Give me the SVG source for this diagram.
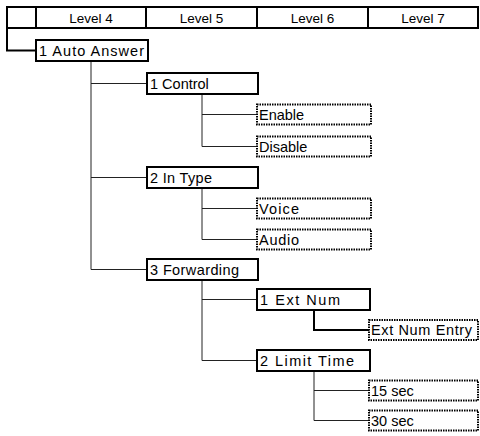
<svg xmlns="http://www.w3.org/2000/svg" width="480" height="436" viewBox="0 0 480 436">
<style>
  text { font-family: "Liberation Sans", Arial, sans-serif; font-size: 14.5px; fill: #000; }
  .hdr { text-anchor: middle; font-size: 13.5px; }
  .box { fill: #fff; stroke: #000; stroke-width: 2; }
  .opt { fill: #fff; stroke: #000; stroke-width: 2; stroke-dasharray: 1.5 1; }
  .thin { fill: none; stroke: #222; stroke-width: 1; }
  .thick { fill: none; stroke: #000; stroke-width: 2; }
</style>
<rect width="480" height="436" fill="#fff"/>
<g id="header">
  <rect x="7" y="7" width="471" height="21" fill="#fff" stroke="#000" stroke-width="2"/>
  <line x1="36" y1="7" x2="36" y2="28" stroke="#000" stroke-width="2"/>
  <line x1="146" y1="7" x2="146" y2="28" stroke="#000" stroke-width="2"/>
  <line x1="257" y1="7" x2="257" y2="28" stroke="#000" stroke-width="2"/>
  <line x1="368" y1="7" x2="368" y2="28" stroke="#000" stroke-width="2"/>
  <text class="hdr" x="91" y="22.5">Level 4</text>
  <text class="hdr" x="201.5" y="22.5">Level 5</text>
  <text class="hdr" x="312.5" y="22.5">Level 6</text>
  <text class="hdr" x="423" y="22.5">Level 7</text>
</g>
<g id="connectors">
  <path class="thick" d="M7,28 V50.5 H36"/>
  <path class="thin" d="M91,61 V269.5 M91,83.5 H147 M91,177.5 H147 M91,269.5 H147"/>
  <path class="thin" d="M202,94 V146.5 M202,114.5 H257 M202,146.5 H257"/>
  <path class="thin" d="M202,188 V239.5 M202,208.5 H257 M202,239.5 H257"/>
  <path class="thin" d="M202,280 V360.5 M202,299.5 H257 M202,360.5 H257"/>
  <path class="thick" d="M314,310 V330 H369"/>
  <path class="thin" d="M314,371 V420.5 M314,390.5 H369 M314,420.5 H369"/>
</g>
<g id="n-auto-answer"><rect class="box" x="36" y="40" width="112" height="21"/><text x="39" y="55.5" textLength="105" lengthAdjust="spacing">1 Auto Answer</text></g>
<g id="n-control"><rect class="box" x="147" y="73" width="111" height="21"/><text x="150" y="88.5">1 Control</text></g>
<g id="n-enable"><rect class="opt" x="257" y="104.5" width="114" height="20"/><text x="259" y="119.5">Enable</text></g>
<g id="n-disable"><rect class="opt" x="257" y="136.5" width="114" height="20"/><text x="259" y="151.5">Disable</text></g>
<g id="n-in-type"><rect class="box" x="147" y="167" width="111" height="21"/><text x="150" y="182.5" textLength="62" lengthAdjust="spacing">2 In Type</text></g>
<g id="n-voice"><rect class="opt" x="257" y="198.5" width="114" height="20"/><text x="259" y="213.5" textLength="40" lengthAdjust="spacing">Voice</text></g>
<g id="n-audio"><rect class="opt" x="257" y="229.5" width="114" height="20"/><text x="259" y="244.5" textLength="40" lengthAdjust="spacing">Audio</text></g>
<g id="n-forwarding"><rect class="box" x="147" y="259" width="111" height="21"/><text x="150" y="274.5" textLength="89" lengthAdjust="spacing">3 Forwarding</text></g>
<g id="n-ext-num"><rect class="box" x="257" y="289" width="113" height="21"/><text x="260" y="304.5" textLength="80" lengthAdjust="spacing">1 Ext Num</text></g>
<g id="n-ext-num-entry"><rect class="opt" x="369" y="320" width="109" height="20"/><text x="371" y="335" textLength="101" lengthAdjust="spacing">Ext Num Entry</text></g>
<g id="n-limit-time"><rect class="box" x="257" y="350" width="113" height="21"/><text x="260" y="365.5" textLength="94" lengthAdjust="spacing">2 Limit Time</text></g>
<g id="n-15sec"><rect class="opt" x="369" y="380.5" width="109" height="20"/><text x="371" y="395.5">15 sec</text></g>
<g id="n-30sec"><rect class="opt" x="369" y="410.5" width="109" height="20"/><text x="371" y="425.5">30 sec</text></g>
</svg>
